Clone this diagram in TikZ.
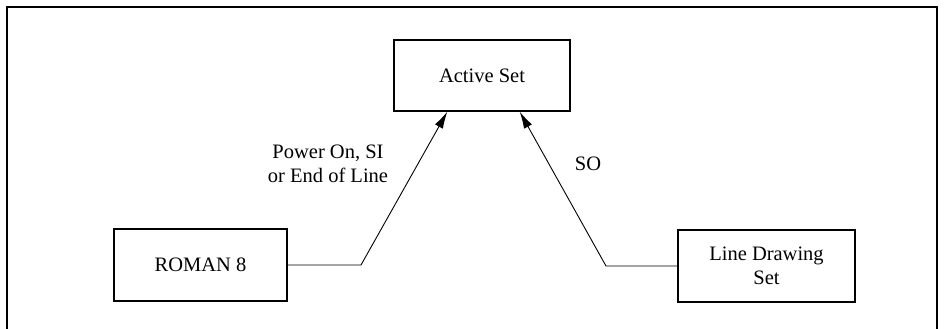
\documentclass[tikz,border=0pt]{standalone}
\usepackage{fontspec}
\setmainfont{Liberation Serif}
\usetikzlibrary{arrows.meta}
\begin{document}
\begin{tikzpicture}[x=1pt,y=-1pt,
  box/.style={draw,line width=1.4pt,inner sep=0pt,align=center,font=\fontsize{20.5}{24}\selectfont},
  lbl/.style={inner sep=0pt,align=center,font=\fontsize{20.5}{23.5}\selectfont},
  conn/.style={line width=0.9pt},
  arr/.style={conn,-{Latex[length=17pt,width=9pt]}}]
\useasboundingbox (0,0) rectangle (950,329);
\draw[line width=2pt] (7,329) -- (7,7.5) -- (937,7.5) -- (937,329);
\node[box,minimum width=176pt,minimum height=71pt] (act) at (482,75.5) {Active Set};
\node[box,minimum width=173pt,minimum height=72pt] (rom) at (200.5,265) {ROMAN 8};
\node[box,minimum width=177pt,minimum height=72pt] (lds) at (766.5,266) {Line Drawing\\Set};
\coordinate (b1) at (361,265);
\coordinate (b2) at (606,266);
\draw[arr] (rom.east) -- (b1) -- ([xshift=54pt]act.south west);
\draw[arr] (lds.west) -- (b2) -- ([xshift=-51pt]act.south east);
\node[lbl] (l1) at (328,164) {Power On, SI\\or End of Line};
\node[lbl] (l2) at (588,164) {SO};
\end{tikzpicture}
\end{document}
